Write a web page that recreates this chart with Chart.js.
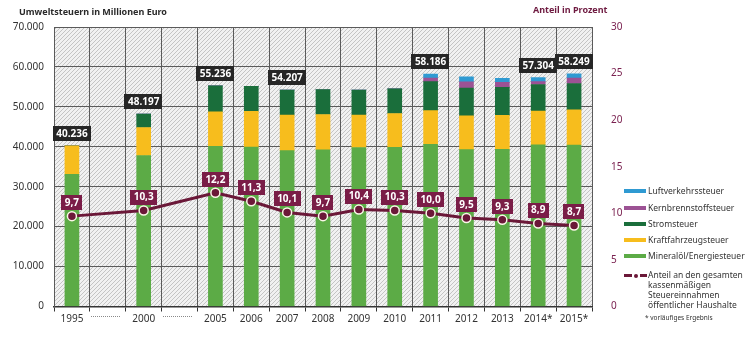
<!DOCTYPE html>
<html lang="de">
<head>
<meta charset="utf-8">
<title>Umweltsteuern</title>
<script src="https://cdn.jsdelivr.net/npm/chart.js@4.4.0/dist/chart.umd.min.js"></script>
<style>
  html, body { margin: 0; padding: 0; background: #fff; }
  #wrap { position: relative; width: 750px; height: 342px; font-family: 'Noto Sans', sans-serif; color: #333; }
  #wrap canvas { position: absolute; left: 0; top: 0; }
  .title { position: absolute; font-weight: bold; font-size: 9px; line-height: 11px; white-space: nowrap; }
  #titleLeft { left: 19px; top: 6px; color: #2a2a2a; }
  #titleRight { left: 533px; top: 4px; color: #6e1a40; }
  .legend { position: absolute; left: 624px; top: 186px; font-size: 8.5px; line-height: 10px; }
  .legend .item { position: absolute; left: 0; white-space: nowrap; }
  .legend .sw { position: absolute; left: 0; width: 22px; height: 4px; }
  .legend .txt { position: absolute; left: 24px; top: 0; }
  .legend .dash { position: absolute; height: 3px; background: #6b1838; }
  .legend .dot { position: absolute; width: 4px; height: 4px; border-radius: 50%; background: #6b1838; }
  #note { position: absolute; left: 645px; top: 313px; font-size: 6.5px; color: #333; white-space: nowrap; }
</style>
</head>
<body>
<div id="wrap">
  <canvas id="chart" width="750" height="342"></canvas>
  <div class="title" id="titleLeft">Umweltsteuern in Millionen Euro</div>
  <div class="title" id="titleRight">Anteil in Prozent</div>
  <div class="legend" id="legend"></div>
  <div id="note">* vorläufiges Ergebnis</div>
</div>
<script>
// Jahre (leere Einträge = Lücke in der Zeitreihe)
const years = ['1995', '', '2000', '', '2005', '2006', '2007', '2008', '2009', '2010', '2011', '2012', '2013', '2014*', '2015*'];

// Umweltsteuern in Mio. Euro
const mineraloel = [33100, null, 37826, null, 40101, 39916, 39025, 39248, 39822, 39838, 40635, 39305, 39364, 40467, 40457];
const kfz = [7136, null, 7015, null, 8674, 8937, 8898, 8842, 8100, 8488, 8422, 8443, 8490, 8501, 8805];
const strom = [0, null, 3356, null, 6461, 6273, 6284, 6261, 6278, 6171, 7247, 6973, 7009, 6638, 6593];
const kernbrennstoff = [0, null, 0, null, 0, 0, 0, 0, 0, 0, 922, 1577, 1285, 708, 1371];
const luftverkehr = [0, null, 0, null, 0, 0, 0, 0, 0, 0, 960, 1200, 983, 990, 1023];

// beschriftete Summen
const totals = [40236, null, 48197, null, 55236, null, 54207, null, null, null, 58186, null, null, 57304, 58249];

// Anteil an den gesamten kassenmäßigen Steuereinnahmen in Prozent
const anteil = [9.7, null, 10.3, null, 12.2, 11.3, 10.1, 9.7, 10.4, 10.3, 10.0, 9.5, 9.3, 8.9, 8.7];

const leftTicks = [0, 10000, 20000, 30000, 40000, 50000, 60000, 70000];
const rightTicks = [0, 5, 10, 15, 20, 25, 30];

const colors = {
  mineraloel: '#5cab46',
  kfz: '#f7bd1d',
  strom: '#1a6e3b',
  kern: '#9c5294',
  luft: '#2f9ad2',
  line: '#6b1838',
  lineBox: '#7a1d47',
  totalBox: '#262626'
};

const fmtThousands = v => String(v).replace(/\B(?=(\d{3})+(?!\d))/g, '.');
const fmtPercent = v => v.toFixed(1).replace('.', ',');

// diagonal schraffierter Hintergrund
function makeHatch() {
  const c = document.createElement('canvas');
  c.width = 4; c.height = 4;
  const g = c.getContext('2d');
  g.fillStyle = '#f1f1f1';
  g.fillRect(0, 0, 4, 4);
  g.strokeStyle = '#c4c4c4';
  g.lineWidth = 1;
  g.beginPath();
  g.moveTo(0, 4); g.lineTo(4, 0);
  g.moveTo(-1, 1); g.lineTo(1, -1);
  g.moveTo(3, 5); g.lineTo(5, 3);
  g.stroke();
  return c;
}

const hatchPlugin = {
  id: 'hatch',
  beforeDraw(chart) {
    const { ctx, chartArea: a } = chart;
    ctx.save();
    ctx.fillStyle = ctx.createPattern(makeHatch(), 'repeat');
    ctx.fillRect(a.left, a.top, a.right - a.left, a.bottom - a.top);
    ctx.restore();
  }
};

// gepunktete Linie an Stelle der fehlenden Jahre
const gapPlugin = {
  id: 'gaps',
  afterDraw(chart) {
    const { ctx, chartArea: a, scales } = chart;
    const w = (a.right - a.left) / years.length;
    const y = Math.round(a.bottom + 9);
    ctx.save();
    ctx.fillStyle = '#8a8a8a';
    years.forEach((lbl, i) => {
      if (lbl !== '') return;
      const x = scales.x.getPixelForValue(i);
      for (let px = Math.round(x - w / 2 + 1); px < x + w / 2 - 5; px += 2) {
        ctx.fillRect(px, y, 1, 1);
      }
    });
    ctx.restore();
  }
};

function drawBox(ctx, text, cx, bottom, bg) {
  ctx.font = 'bold 10px "Noto Sans"';
  const tw = ctx.measureText(text).width;
  const w = tw + 7, h = 15;
  ctx.fillStyle = bg;
  ctx.fillRect(Math.round(cx - w / 2), Math.round(bottom - h), Math.round(w), h);
  ctx.fillStyle = '#fff';
  ctx.textAlign = 'center';
  ctx.textBaseline = 'middle';
  ctx.fillText(text, cx, bottom - h / 2 + 0.5);
}

const boxPlugin = {
  id: 'boxes',
  afterDatasetsDraw(chart) {
    const { ctx, scales } = chart;
    ctx.save();
    totals.forEach((t, i) => {
      if (t == null) return;
      const x = scales.x.getPixelForValue(i);
      drawBox(ctx, fmtThousands(t), x, scales.y.getPixelForValue(t) - 5, colors.totalBox);
    });
    const meta = chart.getDatasetMeta(5);
    anteil.forEach((p, i) => {
      if (p == null) return;
      const pt = meta.data[i];
      drawBox(ctx, fmtPercent(p), pt.x, pt.y - 6, colors.lineBox);
    });
    ctx.restore();
  }
};

const barSet = (label, data, color) => ({
  type: 'bar', label, data, backgroundColor: color,
  yAxisID: 'y', stack: 'steuern', barThickness: 14, order: 1
});

const tickFont = { family: 'Noto Sans', size: 10 };

new Chart(document.getElementById('chart'), {
  data: {
    labels: years,
    datasets: [
      barSet('Mineralöl/Energiesteuer', mineraloel, colors.mineraloel),
      barSet('Kraftfahrzeugsteuer', kfz, colors.kfz),
      barSet('Stromsteuer', strom, colors.strom),
      barSet('Kernbrennstoffsteuer', kernbrennstoff, colors.kern),
      barSet('Luftverkehrssteuer', luftverkehr, colors.luft),
      {
        type: 'line',
        label: 'Anteil an den gesamten kassenmäßigen Steuereinnahmen öffentlicher Haushalte',
        data: anteil,
        yAxisID: 'y1',
        borderColor: colors.line,
        borderWidth: 3,
        pointRadius: 4.5,
        pointBackgroundColor: colors.line,
        pointBorderColor: '#fbf6e8',
        pointBorderWidth: 1.5,
        spanGaps: true,
        tension: 0,
        order: 0
      }
    ]
  },
  options: {
    responsive: false,
    animation: false,
    layout: { padding: { top: 27, left: 0, right: 128, bottom: 0 } },
    plugins: { legend: { display: false }, tooltip: { enabled: false } },
    scales: {
      x: {
        stacked: true,
        grid: { offset: true, color: '#5a5a5a', lineWidth: 1, tickLength: 5, tickColor: '#333' },
        border: { color: '#333', width: 1.5 },
        ticks: { color: '#333', font: tickFont, padding: 2, maxRotation: 0, autoSkip: false },
        afterFit(s) { s.height = 35.5; s.paddingLeft = 0; s.paddingRight = 0; }
      },
      y: {
        stacked: true,
        position: 'left',
        min: 0,
        max: 70000,
        afterBuildTicks(s) { s.ticks = leftTicks.map(v => ({ value: v })); },
        grid: { color: '#5a5a5a', lineWidth: 1, drawTicks: false },
        border: { color: '#5a5a5a' },
        ticks: { color: '#333', font: tickFont, padding: 10, callback: v => fmtThousands(v) },
        afterFit(s) { s.width = 54; s.paddingTop = 0; s.paddingBottom = 0; }
      },
      y1: {
        position: 'right',
        min: 0,
        max: 30,
        afterBuildTicks(s) { s.ticks = rightTicks.map(v => ({ value: v })); },
        grid: { display: false },
        border: { display: false },
        ticks: { color: '#7a2150', font: tickFont, padding: 11 },
        afterFit(s) { s.width = 30; s.paddingTop = 0; s.paddingBottom = 0; }
      }
    }
  },
  plugins: [hatchPlugin, gapPlugin, boxPlugin]
});

// Legende
const legendItems = [
  { text: 'Luftverkehrssteuer', color: colors.luft, top: 0 },
  { text: 'Kernbrennstoffsteuer', color: colors.kern, top: 17 },
  { text: 'Stromsteuer', color: colors.strom, top: 33 },
  { text: 'Kraftfahrzeugsteuer', color: colors.kfz, top: 49 },
  { text: 'Mineralöl/Energiesteuer', color: colors.mineraloel, top: 65 }
];
const legend = document.getElementById('legend');
legendItems.forEach(it => {
  const d = document.createElement('div');
  d.className = 'item';
  d.style.top = it.top + 'px';
  d.innerHTML = '<span class="sw" style="top:3px;background:' + it.color + '"></span><span class="txt">' + it.text + '</span>';
  legend.appendChild(d);
});
const lineItem = document.createElement('div');
lineItem.className = 'item';
lineItem.style.top = '84px';
lineItem.innerHTML =
  '<span class="dash" style="left:0;top:4px;width:8px"></span>' +
  '<span class="dot" style="left:10px;top:3.5px"></span>' +
  '<span class="dash" style="left:16px;top:4px;width:7px"></span>' +
  '<span class="txt">Anteil an den gesamten<br>kassenmäßigen<br>Steuereinnahmen<br>öffentlicher Haushalte</span>';
legend.appendChild(lineItem);
</script>
</body>
</html>
